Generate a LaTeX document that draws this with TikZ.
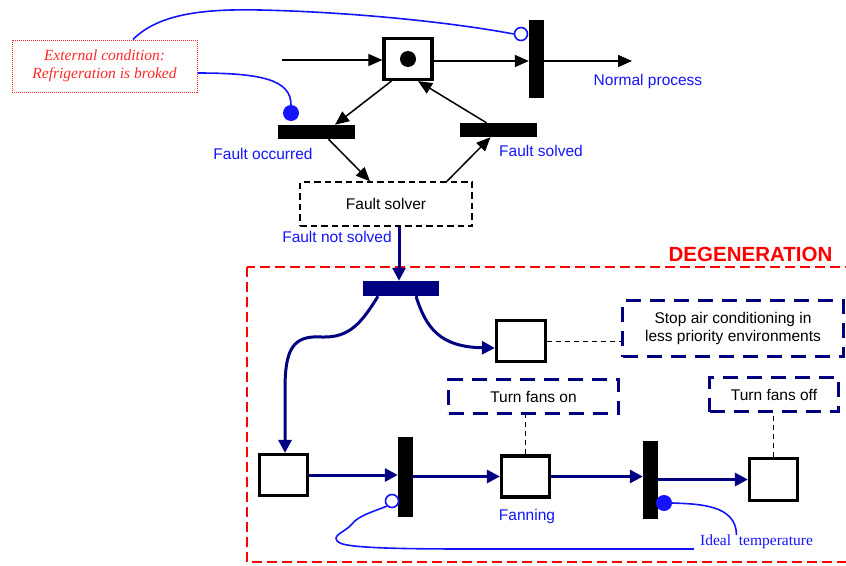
\documentclass[tikz,border=0pt]{standalone}
\usepackage{fontspec}
\setmainfont{Liberation Serif}
\setsansfont{Liberation Sans}
\usetikzlibrary{arrows.meta}
\definecolor{navy}{RGB}{0,0,128}
\definecolor{lblue}{RGB}{20,20,255}
\definecolor{lred}{RGB}{255,40,40}
\begin{document}
\begin{tikzpicture}[x=1pt,y=-1pt,
  txt/.style={font=\sffamily\fontsize{15.5}{18}\selectfont, inner sep=0pt},
  lbl/.style={txt, text=lblue},
  place/.style={draw=black, line width=3.2pt, fill=white, inner sep=0pt, minimum width=48pt, minimum height=41pt},
  bar/.style={fill=black, draw=none, inner sep=0pt},
  nbar/.style={fill=navy, draw=none, inner sep=0pt},
  blk/.style={line width=1.5pt, -{Triangle[length=14pt,width=12pt]}},
  narr/.style={navy, line width=3pt, -{Triangle[length=13pt,width=13pt]}},
  inh/.style={lblue, line width=1.6pt},
  ocirc/.style={circle, draw=lblue, fill=white, line width=1.6pt, inner sep=0pt, minimum size=13pt},
  fcirc/.style={circle, fill=lblue, draw=none, inner sep=0pt, minimum size=16pt},
  nbox/.style={txt, draw=navy, line width=3pt, dash pattern=on 15pt off 9pt, align=center},
  tie/.style={black, line width=1pt, dash pattern=on 5pt off 4pt},
]
\useasboundingbox (0,0) rectangle (846,565);

% external condition
\node[draw=lred, line width=1pt, dash pattern=on 1pt off 1pt, minimum width=185pt, minimum height=52pt,
      align=center, font=\itshape\fontsize{15.5}{18}\selectfont, text=lred, inner sep=0pt] (ext) at (104.5,66) {External condition:\\Refrigeration is broked};

% top net
\node[place] (TP) at (408,59) {};
\fill (TP.center) circle (8pt);
\node[bar, minimum width=15pt, minimum height=78pt] (TT) at (536.5,59) {};
\node[bar, minimum width=77pt, minimum height=14pt] (FO) at (316.5,132) {};
\node[bar, minimum width=77pt, minimum height=14pt] (FS) at (498.5,130) {};
\node[txt, draw=black, line width=1.5pt, dash pattern=on 6.5pt off 4pt, minimum width=172pt, minimum height=44pt] (FSV) at (386,204) {Fault solver};
\coordinate (in) at (282,60);
\coordinate (out) at (632,61);

\node[lbl] (lnp) at (648,81) {Normal process};
\node[lbl] (lfo) at (263,154) {Fault occurred};
\node[lbl] (lfs) at (541,151) {Fault solved};
\node[lbl] (lfns) at (337,237) {Fault not solved};

\node[ocirc] (c1) at (521,34) {};
\node[fcirc] (c2) at (291,113) {};

\draw[blk] (in) -- (in -| TP.west);
\draw[blk] ([yshift=-2pt]TP.east) -- ([yshift=-2pt]TP.east -| TT.west);
\draw[blk] (TT.east |- out) -- (out);
\draw[blk] ([xshift=9pt]TP.south west) -- ([xshift=18.5pt]FO.north);
\draw[blk] ([xshift=12pt]FO.south) -- ([xshift=-16pt]FSV.north);
\draw[blk] ([xshift=61pt]FSV.north) -- ([xshift=-8pt]FS.south);
\draw[blk] ([xshift=-12pt]FS.north) -- ([xshift=10pt]TP.south);

\draw[inh] ([xshift=28.5pt]ext.north) .. controls (160,12) and (210,9) .. (260,10)
  .. controls (350,12) and (450,22) .. (c1.west);
\draw[inh] ([yshift=-7pt]ext.east) .. controls (262,73) and (291,80) .. (c2.north);

% degeneration
\draw[red, line width=2pt, dash pattern=on 10pt off 5pt] (247,267) rectangle (856,562);
\node[font=\sffamily\bfseries\fontsize{20.5}{24}\selectfont, text=red, inner sep=0pt] (deg) at (750.5,254) {DEGENERATION};

\node[nbar, minimum width=76pt, minimum height=15pt] (NB) at (401,288.5) {};
\node[place, minimum width=49pt] (PSA) at (521,341) {};
\node[place] (P1) at (283.5,475) {};
\node[place] (PF) at (525.5,476.5) {};
\node[place, minimum height=42pt] (P3) at (773.5,479.5) {};
\node[bar, minimum width=15pt, minimum height=80pt] (T1) at (405.5,477) {};
\node[bar, minimum width=15pt, minimum height=78pt] (T2) at (650.5,480) {};

\node[nbox, minimum width=221pt, minimum height=56pt] (SA) at (733,328.5) {Stop air conditioning in\\less priority environments};
\node[nbox, minimum width=170pt, minimum height=34pt] (TFon) at (533.5,396.5) {Turn fans on};
\node[nbox, minimum width=129pt, minimum height=34pt] (TFoff) at (774,394.5) {Turn fans off};

\node[lbl] (lfan) at (527,516) {Fanning};
\node[font=\fontsize{15.5}{18}\selectfont, text=lblue, inner sep=0pt] (ideal) at (756.5,542) {Ideal\ \ temperature};

\node[ocirc] (c3) at (392,501) {};
\node[fcirc] (c4) at (664,503) {};

\draw[narr] ([xshift=13pt]FSV.south) -- ([xshift=-2pt]NB.north);
\draw[narr] ([xshift=-23pt]NB.south) .. controls (362,322) and (350,338) .. (322,337)
  .. controls (292,335) and (285,350) .. (285,390) -- ([xshift=1.5pt]P1.north);
\draw[narr] ([xshift=15pt]NB.south) .. controls (426,328) and (440,347) .. ([yshift=-7pt]PSA.west);
\draw[narr] (P1.east) -- (P1.east -| T1.west);
\draw[narr] (T1.east |- PF.west) -- (PF.west);
\draw[narr] (PF.east) -- (PF.east -| T2.west);
\draw[narr] (T2.east |- P3.west) -- (P3.west);

\draw[tie] (PSA.east) -- (PSA.east -| SA.west);
\draw[tie] (PF.north) -- (PF.north |- TFon.south);
\draw[tie] (P3.north) -- (P3.north |- TFoff.south);

\draw[inh] (c3.south west) .. controls (372,512) and (358,516) .. (352,524)
  .. controls (346,532) and (328,536) .. (340,543)
  .. controls (350,548) and (400,549) .. (470,549) -- ([xshift=-6pt,yshift=-7pt]ideal.west);
\draw[inh] (c4.east) .. controls (700,504) and (736,505) .. ([xshift=-20pt]ideal.north);
\end{tikzpicture}
\end{document}
